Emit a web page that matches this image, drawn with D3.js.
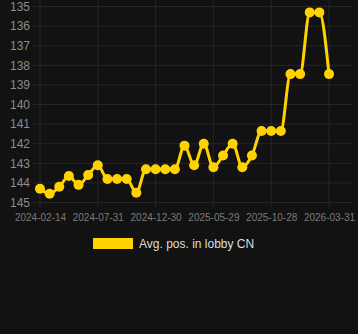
<!DOCTYPE html>
<html>
<head>
<meta charset="utf-8">
<script src="https://cdn.jsdelivr.net/npm/d3@7"></script>
<style>
  html, body { margin: 0; padding: 0; background: #121212; }
  svg { display: block; }
</style>
</head>
<body>
<svg id="chart" width="358" height="334"></svg>
<script>
const seriesName = "Avg. pos. in lobby CN";
const values = [144.3, 144.55, 144.2, 143.65, 144.1, 143.6, 143.1, 143.8, 143.8, 143.8,
                144.5, 143.3, 143.3, 143.3, 143.3, 142.1, 143.1, 142.0, 143.2, 142.6,
                142.0, 143.2, 142.6, 141.35, 141.35, 141.35, 138.45, 138.45, 135.3, 135.3, 138.45];
const tickLabels = ["2024-02-14", "2024-07-31", "2024-12-30", "2025-05-29", "2025-10-28", "2026-03-31"];
const tickIndices = [0, 6, 12, 18, 24, 30];
const yTicks = [135, 136, 137, 138, 139, 140, 141, 142, 143, 144, 145];

const svg = d3.select("#chart");
const color = "#FFD300";

const x = d3.scalePoint().domain(d3.range(values.length)).range([40, 329]);
const y = d3.scaleLinear().domain([135, 145]).range([6.5, 202.5]);

// grid
const grid = svg.append("g");
grid.selectAll("line.h").data(yTicks).enter().append("line")
  .attr("x1", 33).attr("x2", 352)
  .attr("y1", d => y(d)).attr("y2", d => y(d))
  .attr("stroke", "#262626").attr("stroke-width", 1);
grid.selectAll("line.v").data(tickIndices).enter().append("line")
  .attr("x1", d => x(d)).attr("x2", d => x(d))
  .attr("y1", 0).attr("y2", 207)
  .attr("stroke", "#262626").attr("stroke-width", 1);

// y axis
const yAxis = d3.axisLeft(y).tickValues(yTicks).tickSize(0).tickPadding(0).tickFormat(d3.format("d"));
const gy = svg.append("g").attr("transform", "translate(30,0)").call(yAxis);
gy.select(".domain").remove();
gy.selectAll("text").attr("fill", "#8c8c8c").style("font-family", "Arial, 'Liberation Sans', sans-serif").style("font-size", "12px");

// x axis
const xAxis = d3.axisBottom(x).tickValues(tickIndices).tickSize(0).tickPadding(0)
  .tickFormat((d, i) => tickLabels[i]);
const gx = svg.append("g").attr("transform", "translate(0,214)").call(xAxis);
gx.select(".domain").remove();
gx.selectAll("text").attr("fill", "#7a7a7a").style("font-family", "Arial, 'Liberation Sans', sans-serif").style("font-size", "10px");

// line
const line = d3.line().x((d, i) => x(i)).y(d => y(d)).curve(d3.curveMonotoneX);
svg.append("path").datum(values)
  .attr("d", line).attr("fill", "none")
  .attr("stroke", color).attr("stroke-width", 3);

svg.selectAll("circle.pt").data(values).enter().append("circle")
  .attr("cx", (d, i) => x(i)).attr("cy", d => y(d)).attr("r", 5)
  .attr("fill", color);

// legend
const lg = svg.append("g");
lg.append("rect").attr("x", 93).attr("y", 238).attr("width", 40).attr("height", 11).attr("fill", color);
lg.append("text").attr("x", 139).attr("y", 248).text(seriesName)
  .attr("fill", "#dddddd").style("font-family", "Arial, 'Liberation Sans', sans-serif").style("font-size", "12px");
</script>
</body>
</html>
